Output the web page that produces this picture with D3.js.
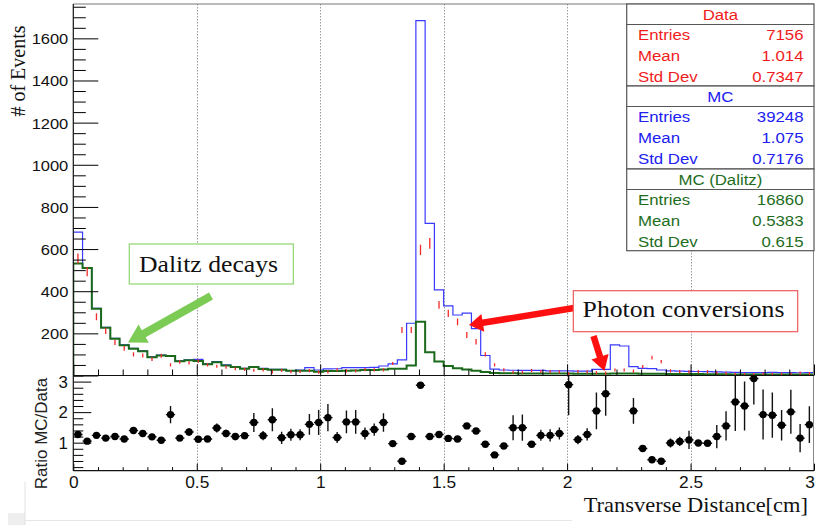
<!DOCTYPE html>
<html>
<head>
<meta charset="utf-8">
<script src="https://cdn.jsdelivr.net/npm/d3@7"></script>
<style>
  html, body { margin: 0; padding: 0; background: #fff; }
  svg { display: block; }
</style>
</head>
<body>
<svg id="chart" width="815" height="525"></svg>
<script>
// ---- Histogram binning: 80 equal bins over the transverse distance range ----
const xLow = 0, xHigh = 3, nBins = 80;

// MC (all sources), scaled to data
const mcAll = [
  680, 512, 319, 229, 176, 145, 129, 117, 89, 97,
  94, 70, 74, 77, 55, 66, 50, 42, 34, 42,
  34, 29, 29, 23, 26, 37, 26, 31, 32, 37,
  37, 37, 39, 45, 55, 74, 248, 1684, 722, 406,
  330, 287, 296, 222, 95, 30, 26, 25, 24, 24,
  24, 22, 22, 22, 21, 21, 29, 29, 145, 140,
  42, 34, 33, 26, 22, 21, 20, 19, 18, 17,
  16, 15, 14, 14, 14, 15, 14, 14, 13, 14
];

// MC, Dalitz decays only
const mcDalitz = [
  532, 510, 317, 227, 174, 143, 127, 115, 87, 95,
  92, 68, 72, 69, 53, 63, 48, 40, 32, 40,
  31, 27, 27, 22, 23, 23, 18, 21, 21, 23,
  24, 26, 26, 29, 32, 32, 48, 255, 110, 66,
  45, 34, 29, 23, 17, 12, 11, 11, 10, 10,
  10, 9, 9, 9, 8, 8, 8, 8, 10, 10,
  9, 8, 8, 8, 7, 7, 7, 7, 6, 6,
  6, 5, 5, 5, 5, 5, 5, 5, 5, 5
];

// Data counts
const dataCounts = [
  555, 493, 279, 212, 157, 129, 100, 95, 78, 94,
  50, 64, 60, 69, 50, 44, 40, 32, 29, 25,
  27, 17, 24, 18, 19, 23, 16, 17, 27, 22,
  22, 28, 27, 27, 57, 216, 216, 596, 627, 335,
  295, 255, 192, 160, 100, 50, 27, 16, 16, 23,
  19, 18, 17, 8, 19, 17, 14, 11, 26, 26,
  21, 42, 85, 66, 22, 19, 17, 18, 18, 13,
  10, 6, 6, 4, 7, 7, 8, 7, 11, 9
];

// Ratio MC/Data per bin (null = outside the displayed range)
const ratio = [
  1.27, 1.05, 1.24, 1.15, 1.20, 1.12, 1.40, 1.30, 1.19, 1.08,
  1.92, 1.15, 1.35, 1.11, 1.12, 1.48, 1.30, 1.20, 1.23, 1.66,
  1.23, 1.75, 1.16, 1.26, 1.26, 1.60, 1.66, 1.82, 1.17, 1.68,
  1.68, 1.30, 1.43, 1.66, 0.97, 0.39, 1.20, 2.88, 1.20, 1.27,
  1.14, 1.12, 1.55, 1.38, 0.95, 0.60, 0.89, 1.49, 1.49, 0.95,
  1.24, 1.24, 1.30, 2.90, 1.10, 1.27, 2.04, 2.60, null, null,
  2.04, 0.81, 0.44, 0.39, 0.99, 1.04, 1.09, 0.99, 0.98, 1.20,
  1.55, 2.33, 2.20, 3.10, 1.92, 1.90, 1.57, 2.01, 1.15, 1.59
];

// Uncertainty on the ratio per bin
const ratioErr = [
  0.05, 0.05, 0.05, 0.05, 0.05, 0.05, 0.07, 0.07, 0.08, 0.08,
  0.28, 0.08, 0.12, 0.08, 0.10, 0.15, 0.12, 0.12, 0.12, 0.31,
  0.15, 0.38, 0.20, 0.20, 0.18, 0.34, 0.41, 0.45, 0.18, 0.37,
  0.39, 0.20, 0.20, 0.30, 0.05, 0.03, 0.05, 0.05, 0.04, 0.05,
  0.05, 0.05, 0.06, 0.06, 0.06, 0.06, 0.10, 0.41, 0.43, 0.10,
  0.18, 0.20, 0.20, 1.00, 0.15, 0.20, 0.60, 0.72, null, null,
  0.42, 0.05, 0.05, 0.05, 0.15, 0.15, 0.30, 0.10, 0.10, 0.38,
  0.48, 0.95, 0.80, 0.85, 0.82, 0.74, 0.50, 0.72, 0.46, 0.60
];

// Axis ticks
const xMajorTicks = [0, 0.5, 1, 1.5, 2, 2.5, 3];
const xTickLabels = ["0", "0.5", "1", "1.5", "2", "2.5", "3"];
const xGridLines = [0.5, 1, 1.5, 2, 2.5];
const yTopMajorTicks = [0, 200, 400, 600, 800, 1000, 1200, 1400, 1600];
const yTopTickLabels = ["", "200", "400", "600", "800", "1000", "1200", "1400", "1600"];
const yRatioMajorTicks = [1, 2, 3];
const yRatioTickLabels = ["1", "2", "3"];

// Statistics boxes
const statTitles  = ["Data", "MC", "MC (Dalitz)"];
const statEntries = ["7156", "39248", "16860"];
const statMeans   = ["1.014", "1.075", "0.5383"];
const statStdDevs = ["0.7347", "0.7176", "0.615"];
const statColors  = ["#f01c1c", "#2020f0", "#1d6d1d"];

// ---- Layout ----
const svg = d3.select("#chart");
const W = 815, H = 525;
const plotL = 73.3, plotR = 814, plotTop = 4, splitY = 375.5, plotBot = 470.7;

const SANS = "'Liberation Sans', Arial, Helvetica, sans-serif";
const SERIF = "'Liberation Serif', 'Times New Roman', serif";

const colData = "#f52a2a";
const colMC = "#3a3aff";
const colDal = "#1b6a1b";

const x = d3.scaleLinear().domain([xLow, xHigh]).range([plotL, plotR]);
const yTop = d3.scaleLinear().domain([0, 1763]).range([splitY, plotTop]);
const yRat = d3.scaleLinear().domain([0.082, 3.2]).range([plotBot, splitY]);
const binW = (xHigh - xLow) / nBins;
const binLo = i => xLow + i * binW;
const binCenter = i => xLow + (i + 0.5) * binW;

// helper for horizontally stretched text
function label(g, px, py, str, opt) {
  const o = Object.assign({size: 15, anchor: "start", fill: "#000", family: SANS, sx: 1, rotate: 0}, opt);
  return g.append("text")
    .attr("transform", `translate(${px},${py}) rotate(${o.rotate}) scale(${o.sx},1)`)
    .attr("text-anchor", o.anchor)
    .attr("font-family", o.family)
    .attr("font-size", o.size)
    .attr("fill", o.fill)
    .text(str);
}

svg.append("rect").attr("width", W).attr("height", H).attr("fill", "#fff");

// faint page edges
svg.append("rect").attr("x", 8).attr("y", 513).attr("width", 17).attr("height", 12).attr("fill", "#eeeeee");
svg.append("line").attr("x1", 25).attr("x2", 25).attr("y1", 482).attr("y2", 525).attr("stroke", "#e2e2e2");
svg.append("line").attr("x1", 25).attr("x2", 572).attr("y1", 520.5).attr("y2", 520.5).attr("stroke", "#e6e6e6");

svg.append("defs").call(d => {
  d.append("clipPath").attr("id", "clipTop").append("rect")
    .attr("x", plotL).attr("y", plotTop).attr("width", plotR - plotL).attr("height", splitY - plotTop);
  d.append("clipPath").attr("id", "clipRat").append("rect")
    .attr("x", plotL).attr("y", splitY).attr("width", plotR - plotL).attr("height", plotBot - splitY);
});

// ---- vertical grid lines ----
const grid = svg.append("g").attr("stroke", "#9a9a9a").attr("stroke-width", 1).attr("stroke-dasharray", "1.5,1.5");
grid.selectAll("line.gt").data(xGridLines).join("line")
  .attr("x1", d => Math.round(x(d)) + 0.5).attr("x2", d => Math.round(x(d)) + 0.5)
  .attr("y1", plotTop).attr("y2", splitY);
grid.selectAll("line.gb").data(xGridLines).join("line")
  .attr("x1", d => Math.round(x(d)) + 0.5).attr("x2", d => Math.round(x(d)) + 0.5)
  .attr("y1", splitY).attr("y2", plotBot);

// ---- histograms ----
function stepPoints(values) {
  const pts = [[binLo(0), 0]];
  values.forEach((v, i) => { pts.push([binLo(i), v]); pts.push([binLo(i + 1), v]); });
  return pts;
}
const histLine = d3.line().x(d => x(d[0])).y(d => yTop(d[1]));
const upperPad = svg.append("g").attr("clip-path", "url(#clipTop)");
upperPad.append("path").attr("d", histLine(stepPoints(mcAll)))
  .attr("fill", "none").attr("stroke", colMC).attr("stroke-width", 1.2);
upperPad.append("path").attr("d", histLine(stepPoints(mcDalitz)))
  .attr("fill", "none").attr("stroke", colDal).attr("stroke-width", 2);

// data: Poisson uncertainty bars
upperPad.selectAll("line.data").data(dataCounts).join("line")
  .attr("x1", (d, i) => x(binCenter(i))).attr("x2", (d, i) => x(binCenter(i)))
  .attr("y1", d => Math.min(yTop(d + Math.sqrt(d)), yTop(d) - 1.6))
  .attr("y2", d => Math.max(yTop(d - Math.sqrt(d)), yTop(d) + 1.6))
  .attr("stroke", colData).attr("stroke-width", 1.3);

// ---- ratio panel ----
const lowerPad = svg.append("g").attr("clip-path", "url(#clipRat)");
const ratioPts = ratio.map((r, i) => ({i, r, e: ratioErr[i]})).filter(d => d.r !== null);
lowerPad.selectAll("line.ev").data(ratioPts).join("line")
  .attr("x1", d => x(binCenter(d.i))).attr("x2", d => x(binCenter(d.i)))
  .attr("y1", d => yRat(d.r + d.e)).attr("y2", d => yRat(d.r - d.e))
  .attr("stroke", "#111").attr("stroke-width", 1.4);
lowerPad.selectAll("line.eh").data(ratioPts).join("line")
  .attr("x1", d => x(binLo(d.i))).attr("x2", d => x(binLo(d.i + 1)))
  .attr("y1", d => yRat(d.r)).attr("y2", d => yRat(d.r))
  .attr("stroke", "#111").attr("stroke-width", 1.4);
lowerPad.selectAll("circle").data(ratioPts).join("circle")
  .attr("cx", d => x(binCenter(d.i))).attr("cy", d => yRat(d.r))
  .attr("r", 3.7).attr("fill", "#000");

// ---- axes ----
const xMinor = d3.range(0, 31).map(k => k / 10).filter(v => Math.abs(v * 2 - Math.round(v * 2)) > 1e-6);
const yTopMinor = d3.range(0, 1751, 50).filter(v => v % 200 !== 0);
const yRatMinor = d3.range(1, 17).map(k => k / 5).filter(v => Math.abs(v - Math.round(v)) > 1e-6);

function styleAxis(g) {
  g.select(".domain").remove();
  g.selectAll(".tick line").attr("stroke", "#000").attr("stroke-width", 1);
}

// upper pad x-axis ticks (no labels)
svg.append("g").attr("transform", `translate(0,${splitY})`)
  .call(d3.axisBottom(x).tickValues(xMajorTicks).tickSize(-11).tickFormat(""))
  .call(styleAxis);
svg.append("g").attr("transform", `translate(0,${splitY})`)
  .call(d3.axisBottom(x).tickValues(xMinor).tickSize(-6).tickFormat(""))
  .call(styleAxis);

// upper pad y-axis
const yTopAxis = svg.append("g").attr("transform", `translate(${plotL},0)`)
  .call(d3.axisLeft(yTop).tickValues(yTopMajorTicks).tickSize(-25).tickPadding(5)
    .tickFormat((d, i) => yTopTickLabels[i]))
  .call(styleAxis);
yTopAxis.selectAll(".tick text")
  .attr("x", null).attr("dy", null)
  .attr("transform", "translate(-5,5.4) scale(1.1,1)")
  .attr("font-family", SANS).attr("font-size", 15).attr("fill", "#111");
svg.append("g").attr("transform", `translate(${plotL},0)`)
  .call(d3.axisLeft(yTop).tickValues(yTopMinor).tickSize(-12.5).tickFormat(""))
  .call(styleAxis);

// ratio pad y-axis
const yRatAxis = svg.append("g").attr("transform", `translate(${plotL},0)`)
  .call(d3.axisLeft(yRat).tickValues(yRatioMajorTicks).tickSize(-18).tickPadding(5)
    .tickFormat((d, i) => yRatioTickLabels[i]))
  .call(styleAxis);
yRatAxis.selectAll(".tick text")
  .attr("x", null).attr("dy", null)
  .attr("transform", "translate(-5.5,5.8) scale(1.05,1)")
  .attr("font-family", SANS).attr("font-size", 16).attr("fill", "#111");
svg.append("g").attr("transform", `translate(${plotL},0)`)
  .call(d3.axisLeft(yRat).tickValues(yRatMinor).tickSize(-10).tickFormat(""))
  .call(styleAxis);

// ratio pad x-axis
const xRatAxis = svg.append("g").attr("transform", `translate(0,${plotBot})`)
  .call(d3.axisBottom(x).tickValues(xMajorTicks).tickSize(-7).tickPadding(5)
    .tickFormat((d, i) => xTickLabels[i]))
  .call(styleAxis);
xRatAxis.selectAll(".tick text")
  .attr("y", null).attr("dy", null)
  .attr("transform", "translate(0,17.5) scale(1.02,1)")
  .attr("font-family", SANS).attr("font-size", 17).attr("fill", "#111");
// last label sits at the page edge: right-align it so it stays fully visible
xRatAxis.selectAll(".tick text").filter(d => d === xHigh)
  .attr("text-anchor", "end").attr("transform", "translate(0.5,17.5) scale(1.02,1)");
svg.append("g").attr("transform", `translate(0,${plotBot})`)
  .call(d3.axisBottom(x).tickValues(xMinor).tickSize(-3.5).tickFormat(""))
  .call(styleAxis);

// frames and axis lines
svg.append("line").attr("x1", plotL).attr("x2", plotR).attr("y1", plotTop).attr("y2", plotTop)
  .attr("stroke", "#777").attr("stroke-width", 1.2);
svg.append("line").attr("x1", plotR - 0.5).attr("x2", plotR - 0.5).attr("y1", plotTop).attr("y2", plotBot)
  .attr("stroke", "#888").attr("stroke-width", 1);
svg.append("line").attr("x1", plotL).attr("x2", plotR).attr("y1", splitY).attr("y2", splitY)
  .attr("stroke", "#111").attr("stroke-width", 1.2);
svg.append("line").attr("x1", plotL).attr("x2", plotR).attr("y1", plotBot).attr("y2", plotBot)
  .attr("stroke", "#111").attr("stroke-width", 1.2);
svg.append("line").attr("x1", plotL).attr("x2", plotL).attr("y1", plotTop).attr("y2", plotBot)
  .attr("stroke", "#111").attr("stroke-width", 1.2);

// axis titles
label(svg, 25, 71, "# of Events", {family: SERIF, size: 20, anchor: "middle", rotate: -90, fill: "#111"});
label(svg, 46.5, 433.5, "Ratio MC/Data", {size: 17, anchor: "middle", rotate: -90, fill: "#222"});
label(svg, 808, 512, "Transverse Distance[cm]", {family: SERIF, size: 21, anchor: "end", sx: 1.07, fill: "#111"});

// ---- statistics boxes ----
const boxL = 626.7, boxR = 814, boxTops = [4, 86, 169], boxBottom = 250.7;
const stats = svg.append("g");
statTitles.forEach((t, k) => {
  const y0 = boxTops[k];
  const y1 = k < 2 ? boxTops[k + 1] : boxBottom;
  stats.append("rect").attr("x", boxL).attr("y", y0).attr("width", boxR - boxL).attr("height", y1 - y0)
    .attr("fill", "#fff").attr("stroke", "#555").attr("stroke-width", 1.2);
  stats.append("line").attr("x1", boxL).attr("x2", boxR).attr("y1", y0 + 20.5).attr("y2", y0 + 20.5)
    .attr("stroke", "#555").attr("stroke-width", 1.2);
  const c = statColors[k];
  label(stats, (boxL + boxR) / 2, y0 + 15.5, t, {anchor: "middle", fill: c, sx: 1.12});
  const rows = [["Entries", statEntries[k]], ["Mean", statMeans[k]], ["Std Dev", statStdDevs[k]]];
  rows.forEach((r, j) => {
    const by = y0 + 36.3 + j * 20.8;
    label(stats, 638, by, r[0], {fill: c, sx: 1.12});
    label(stats, 803.5, by, r[1], {fill: c, sx: 1.12, anchor: "end"});
  });
});

// ---- annotations ----
function arrow(g, x0, y0, x1, y1, shaftW, headL, headW, fill) {
  const dx = x1 - x0, dy = y1 - y0, len = Math.hypot(dx, dy);
  const ux = dx / len, uy = dy / len, nx = -uy, ny = ux;
  const bx = x1 - ux * headL, by = y1 - uy * headL;
  const p = [
    [x0 + nx * shaftW / 2, y0 + ny * shaftW / 2],
    [bx + nx * shaftW / 2, by + ny * shaftW / 2],
    [bx + nx * headW / 2, by + ny * headW / 2],
    [x1, y1],
    [bx - nx * headW / 2, by - ny * headW / 2],
    [bx - nx * shaftW / 2, by - ny * shaftW / 2],
    [x0 - nx * shaftW / 2, y0 - ny * shaftW / 2]
  ];
  g.append("path").attr("d", "M" + p.map(q => q.join(",")).join("L") + "Z").attr("fill", fill);
}

const ann = svg.append("g");
// Dalitz decays
ann.append("rect").attr("x", 129.3).attr("y", 244).attr("width", 164).attr("height", 40)
  .attr("fill", "#fff").attr("stroke", "#8fd46f").attr("stroke-width", 1.2);
label(ann, 208.5, 271.5, "Dalitz decays", {family: SERIF, size: 24, anchor: "middle", sx: 1.07, fill: "#111"});
arrow(ann, 211, 296, 128, 342.5, 8, 18, 21, "#7ccb55");

// Photon conversions
arrow(ann, 574, 308, 469, 325, 6.5, 14, 18, "#ff1010");
arrow(ann, 593.5, 336, 604.5, 371, 6.5, 15, 18, "#ff1010");
ann.append("rect").attr("x", 573.3).attr("y", 290.7).attr("width", 224.4).attr("height", 41)
  .attr("fill", "#fff").attr("stroke", "#ef5a5a").attr("stroke-width", 1.2);
label(ann, 683.5, 317, "Photon conversions", {family: SERIF, size: 24, anchor: "middle", sx: 1.07, fill: "#111"});
</script>
</body>
</html>
